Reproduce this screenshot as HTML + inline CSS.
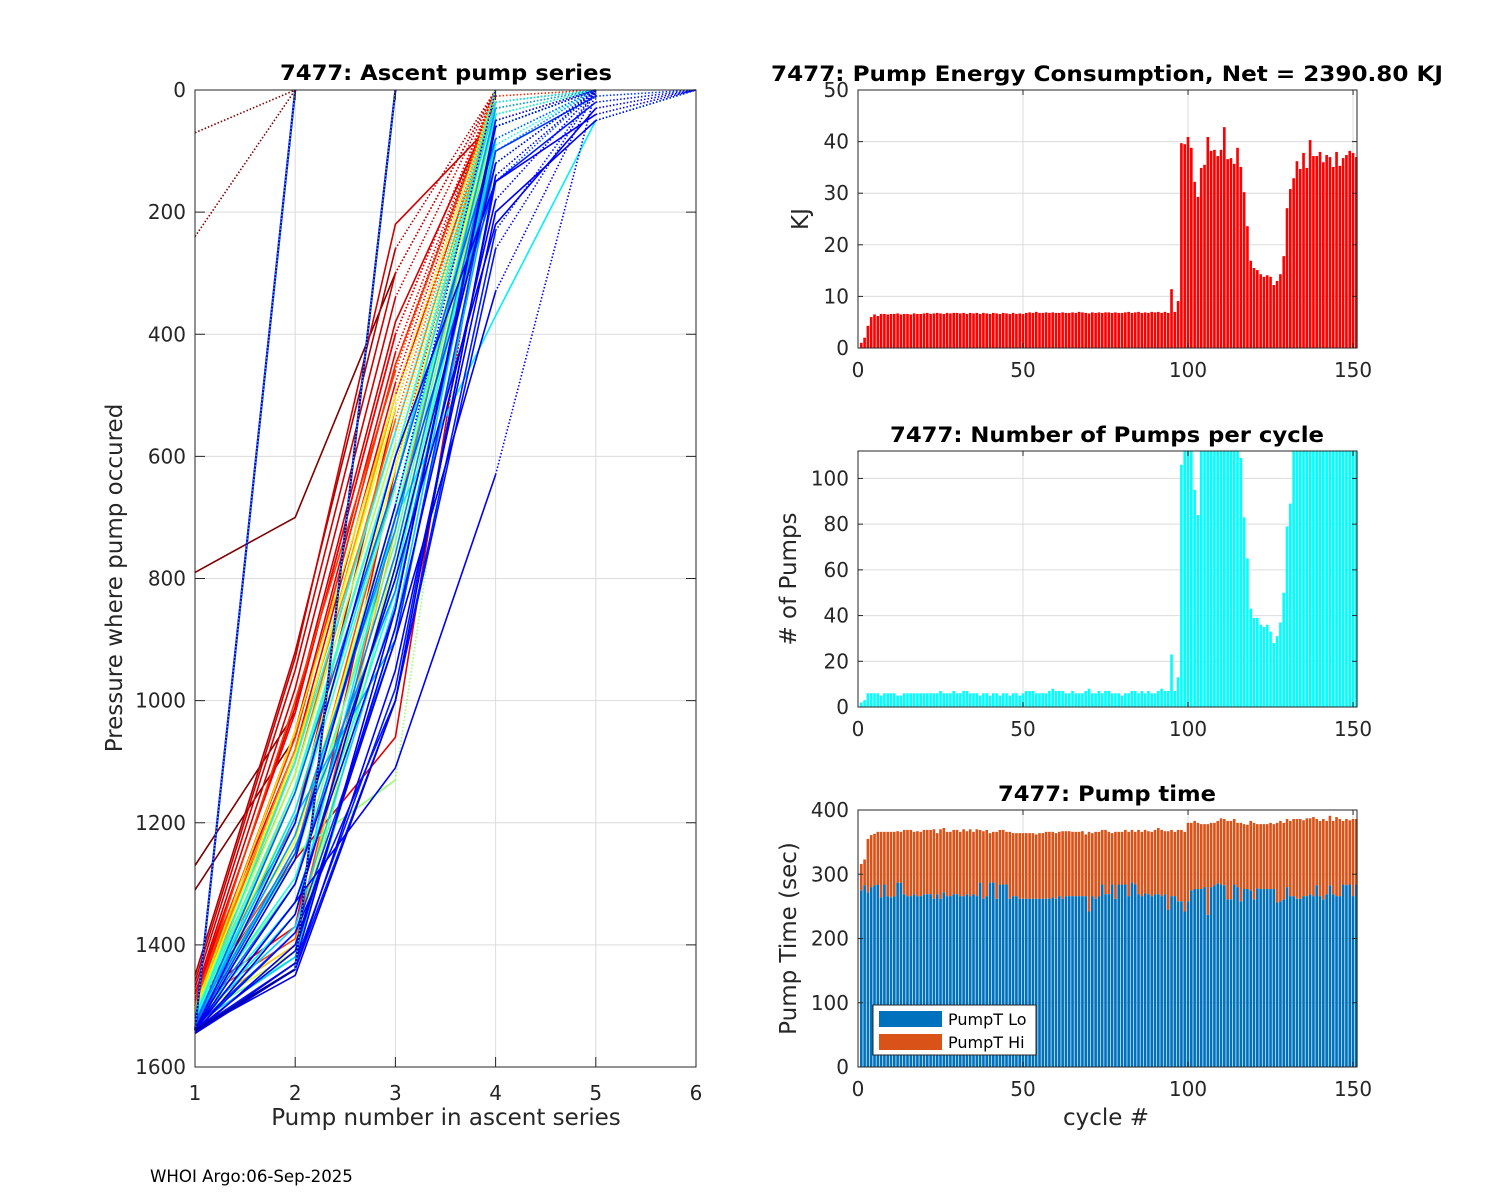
<!DOCTYPE html>
<html><head><meta charset="utf-8"><title>7477 pump plots</title>
<style>
html,body{margin:0;padding:0;background:#fff;}
svg{display:block;font-family:"DejaVu Sans","Liberation Sans",sans-serif;}
.tk{font-size:20px;fill:#262626;}
.lab{font-size:23px;fill:#262626;}
.ttl{font-size:21px;font-weight:bold;fill:#000;}
</style></head>
<body>
<svg id="fig" width="1500" height="1200" viewBox="0 0 1500 1200" xmlns="http://www.w3.org/2000/svg">
<rect x="0" y="0" width="1500" height="1200" fill="#fff"/>
<g id="left"></g>
<g id="energy"></g>
<g id="pumps"></g>
<g id="ptime"></g>
<text x="150" y="1182" font-size="16.6" fill="#000">WHOI Argo:06-Sep-2025</text>
</svg>
<script>
// ---------- DATA ----------
const cycles = [];
for (let i = 1; i <= 151; i++) cycles.push(i);

const energyKJ = [
1.0,2.0,4.3,6.0,6.5,6.2,6.6,6.6,6.5,6.6,
6.6,6.7,6.5,6.6,6.6,6.5,6.7,6.6,6.6,6.7,
6.8,6.6,6.7,6.8,6.7,6.6,6.8,6.7,6.8,6.8,
6.7,6.8,6.6,6.8,6.7,6.8,6.6,6.8,6.7,6.6,
6.8,6.7,6.6,6.8,6.7,6.6,6.8,6.6,6.7,6.6,
6.8,6.9,6.8,7.0,6.8,6.8,6.9,6.8,6.9,6.8,
6.8,6.9,6.8,6.8,6.9,6.8,7.0,6.9,6.8,6.7,
6.9,6.8,6.9,6.8,6.9,6.9,6.8,6.9,6.8,6.8,
6.9,7.0,6.8,6.9,7.0,6.8,6.9,6.8,7.0,6.9,
7.0,6.8,7.0,6.8,11.4,7.0,9.1,
39.7,39.5,40.9,38.8,32.2,29.3,34.9,35.5,40.9,38.2,38.4,37.2,38.4,42.8,36.6,36.8,35.7,38.8,35.1,30.2,23.6,16.9,15.5,15.1,14.3,13.8,14.1,13.8,12.2,13.0,14.3,17.8,27.1,30.8,32.9,36.2,34.7,37.8,34.9,40.3,37.2,37.2,38.0,36.0,37.4,37.0,35.1,38.0,35.3,36.8,37.4,38.2,37.8,37.0];

const pumpCount = [
2,3,6,6,6,6,5,6,6,6,
6,5,5,6,6,6,6,6,6,6,
6,6,6,6,7,6,6,6,7,6,
6,7,7,6,6,6,5,6,6,5,
6,6,5,6,6,5,6,6,5,6,
7,7,7,6,6,6,6,7,8,7,
7,7,6,6,7,6,6,6,7,8,
6,6,7,6,7,7,6,6,6,5,
6,6,7,7,6,7,6,7,6,6,
7,8,7,7,23,7,13,
106,130,125,120,95,84,130,140,135,133,128,132,140,138,126,140,129,135,109,83,65,43,39,39,36,35,36,33,28,31,37,50,79,89,130,140,135,128,150,132,138,141,129,137,126,133,145,139,128,136,142,131,127,134];

const pumpTLo = [
275,283,272,280,283,284,264,284,266,264,
266,287,287,269,266,266,269,266,266,269,
269,269,262,269,262,272,266,266,269,269,
266,266,269,266,269,266,287,262,266,287,
287,262,284,284,284,262,266,266,262,262,
262,262,262,262,262,262,262,262,264,262,
266,262,266,266,266,266,266,266,266,242,
266,262,266,284,269,269,284,262,284,284,
284,266,287,284,269,266,270,269,266,269,
269,266,269,245,266,266,258,258,242,258,
275,277,277,277,280,237,280,283,286,284,
283,261,261,284,280,258,277,277,275,261,
278,277,277,277,277,277,256,258,261,280,
266,266,262,262,266,266,269,266,283,266,
261,269,283,269,266,266,284,283,284,266,
284];

const pumpTHi = [
41,40,83,81,80,82,102,82,100,102,
100,80,79,100,103,103,97,101,100,100,
100,100,108,95,108,100,100,100,100,100,
100,104,98,104,97,104,82,105,103,77,
79,104,85,85,82,104,98,98,102,102,
102,102,102,100,102,102,104,104,102,102,
100,105,101,101,100,100,100,101,96,124,
98,104,100,85,100,97,80,104,82,82,
85,100,82,82,100,100,99,98,100,100,
103,103,98,122,103,100,111,111,124,122,
105,106,103,101,98,141,100,97,97,103,
103,122,122,102,100,122,101,100,108,119,
100,101,101,101,103,101,124,125,119,106,
117,120,124,124,118,121,118,123,103,117,
125,114,108,114,123,120,99,103,100,120,
102];

// ascent pump series: colour parameter (0=blue .. 1=dark red) and pressures at pump 1..n (last segment dotted)
const seriesColorT = [1.00,1.00,1.00,1.00,1.00,0.95,0.92,0.92,0.92,0.92,0.90,0.90,0.90,0.88,0.88,0.85,0.83,0.82,0.80,0.78,0.75,0.72,0.70,0.68,0.65,0.62,0.60,0.58,0.55,0.52,0.50,0.47,0.45,0.43,0.42,0.40,0.38,0.37,0.36,0.35,0.33,0.30,0.28,0.25,0.22,0.20,0.18,0.15,0.15,0.13,0.12,0.12,0.12,0.11,0.11,0.10,0.10,0.10,0.07,0.04,0.90,0.80,0.62,0.48,0.40,0.33,0.26,0.14,0.12,0.09];
const seriesPressure = [
[790,700,300,0],[70,0],[240,0],[1270,1020,400,0],[1310,1060,450,0],
[1450,920,260,0],[1460,930,220,50,0],[1470,950,300,0],[1480,980,340,0],[1490,1010,380,20,0],
[1500,1050,430,0],[1495,1200,520,0],[1500,1260,1060,40,0],[1485,1370,620,0],[1480,1020,400,0],
[1490,1100,500,30,0],[1490,1060,450,10,0],[1500,1000,460,0],[1495,1390,700,60,0],[1505,1120,540,0],
[1500,1080,560,20,0],[1500,1100,500,0],[1505,1150,600,0],[1510,1400,720,30,0],[1505,1050,500,0],
[1510,1180,620,40,0],[1510,1090,520,0],[1515,1410,760,50,0],[1510,1120,580,0],[1515,1250,1130,0],
[1515,1300,700,30,0],[1520,1420,780,60,0],[1520,1200,650,0],[1515,1140,600,0],[1520,1150,600,20,0],
[1525,1330,820,90,0],[1520,1100,560,0],[1525,1250,680,40,0],[1530,1350,700,370,50,0],[1525,1180,640,20,0],
[1530,1420,880,60,0],[1530,1190,900,120,0],[1525,1220,720,30,0],[1530,1300,760,60,0],[1530,1150,640,80,0],
[1535,1250,700,150,0],[1535,1380,900,100,10,0],[1540,1430,980,150,20,0],[1540,1440,1000,230,0],[1540,1330,850,50,0],
[1540,1200,600,150,40,0],[1545,1440,950,200,50,0],[1540,1330,1110,630,0],[1540,1300,800,220,30,0],[1545,1400,900,330,0],
[1540,1450,1000,140,0],[1545,1430,850,60,0],[1540,1260,680,0],[1540,0],[1540,1440,0],
[1480,1080,480,0],[1495,1250,640,0],[1505,1230,680,30,0],[1515,1260,740,40,0],[1520,1290,800,60,0],
[1525,1370,840,80,0],[1530,1240,820,100,0],[1540,1380,1000,260,0],[1540,1410,880,180,0],[1545,1350,780,120,0]];

// ---------- HELPERS ----------
const NS = "http://www.w3.org/2000/svg";
function mk(tag, attrs, parent) {
  const e = document.createElementNS(NS, tag);
  for (const k in attrs) e.setAttribute(k, attrs[k]);
  parent.appendChild(e);
  return e;
}
function txt(parent, x, y, s, cls, anchor, extra) {
  const t = mk("text", Object.assign({x: x, y: y, class: cls, "text-anchor": anchor || "middle"}, extra || {}), parent);
  t.textContent = s;
  return t;
}
function jet(t) {
  const c = v => Math.round(255 * Math.max(0, Math.min(1, v)));
  return "rgb(" + c(1.5 - Math.abs(4 * t - 3)) + "," + c(1.5 - Math.abs(4 * t - 2)) + "," + c(1.5 - Math.abs(4 * t - 1)) + ")";
}
const AX = "#262626", GRID = "#dcdcdc";

// ---------- LEFT CHART ----------
(function () {
  const g = document.getElementById("left");
  const L = 195, R = 696, T = 90, B = 1067;
  const xS = v => L + (v - 1) / 5 * (R - L);
  const yS = p => T + p / 1600 * (B - T);
  const grid = mk("g", {}, g);
  
  
  for (let v = 1; v <= 6; v++) mk("line", {x1: xS(v), x2: xS(v), y1: T, y2: B, stroke: GRID, "stroke-width": 1}, grid);
  for (let p = 0; p <= 1600; p += 200) mk("line", {x1: L, x2: R, y1: yS(p), y2: yS(p), stroke: GRID, "stroke-width": 1}, grid);
  const lines = mk("g", {fill: "none"}, g);
  
  
  const order = seriesPressure.map((p, i) => i).sort((a, b) => seriesColorT[b] - seriesColorT[a]);
  order.forEach(i => {
    const pr = seriesPressure[i];
    const col = jet(seriesColorT[i]);
    const n = pr.length;
    const full = seriesColorT[i] < 0.08;
    const last = full ? n : n - 1;
    if (last >= 2) {
      let d = "";
      for (let k = 0; k < last; k++) d += (k ? "L" : "M") + xS(k + 1).toFixed(1) + "," + yS(pr[k]).toFixed(1);
      const s = mk("path", {d: d, stroke: col, "stroke-width": full ? 2.2 : 1.6}, lines);
      
      
    }
    const dd = mk("line", {x1: xS(n - 1), y1: yS(pr[n - 2]), x2: xS(n), y2: yS(pr[n - 1]), stroke: full ? "#3aa0ff" : col, "stroke-width": 1.6, "stroke-dasharray": "1.5,2"}, lines);
    
    
  });
  const ax = mk("g", {}, g);
  
  
  mk("rect", {x: L, y: T, width: R - L, height: B - T, fill: "none", stroke: AX, "stroke-width": 1}, ax);
  for (let v = 1; v <= 6; v++) {
    mk("line", {x1: xS(v), x2: xS(v), y1: B, y2: B - 10, stroke: AX}, ax);
    mk("line", {x1: xS(v), x2: xS(v), y1: T, y2: T + 10, stroke: AX}, ax);
    const t = txt(ax, xS(v), B + 33, String(v), "tk");
    
    
  }
  for (let p = 0; p <= 1600; p += 200) {
    mk("line", {x1: L, x2: L + 10, y1: yS(p), y2: yS(p), stroke: AX}, ax);
    mk("line", {x1: R, x2: R - 10, y1: yS(p), y2: yS(p), stroke: AX}, ax);
    const t = txt(ax, L - 9, yS(p) + 7, String(p), "tk", "end");
    
    
  }
  const t1 = txt(g, 446, 80, "7477: Ascent pump series", "ttl", "middle", {textLength: 332, lengthAdjust: "spacingAndGlyphs"});
  
  
  const t2 = txt(g, 446, 1125, "Pump number in ascent series", "lab");
  
  
  const t3 = txt(g, 0, 0, "Pressure where pump occured", "lab", "middle", {transform: "translate(122,578) rotate(-90)"});
  
  
})();

// ---------- RIGHT BAR CHARTS ----------
function barAxes(id, T, B, ymax, yticks, title, ylabel, ylabelX, showXLabel) {
  const g = document.getElementById(id);
  const L = 858, R = 1357, XMAX = 151.2;
  const xS = c => L + c / XMAX * (R - L);
  const yS = v => B - Math.min(v, ymax) / ymax * (B - T);
  for (const v of [0, 50, 100, 150]) mk("line", {x1: xS(v), x2: xS(v), y1: T, y2: B, stroke: GRID}, g);
  for (const v of yticks) mk("line", {x1: L, x2: R, y1: yS(v), y2: yS(v), stroke: GRID}, g);
  const bars = mk("g", {}, g);
  
  
  const ax = mk("g", {}, g);
  mk("rect", {x: L, y: T, width: R - L, height: B - T, fill: "none", stroke: AX}, ax);
  for (const v of [0, 50, 100, 150]) {
    mk("line", {x1: xS(v), x2: xS(v), y1: B, y2: B - 5, stroke: AX}, ax);
    mk("line", {x1: xS(v), x2: xS(v), y1: T, y2: T + 5, stroke: AX}, ax);
    const t = txt(ax, xS(v), B + 29, String(v), "tk");
    
    
  }
  for (const v of yticks) {
    mk("line", {x1: L, x2: L + 5, y1: yS(v), y2: yS(v), stroke: AX}, ax);
    mk("line", {x1: R, x2: R - 5, y1: yS(v), y2: yS(v), stroke: AX}, ax);
    const t = txt(ax, L - 9, yS(v) + 7, String(v), "tk", "end");
    
    
  }
  const tt = txt(g, 1107, T - 9, title.s, "ttl", "middle", {textLength: title.w, lengthAdjust: "spacingAndGlyphs"});
  
  
  const yl = txt(g, 0, 0, ylabel, "lab", "middle", {transform: "translate(" + ylabelX + "," + ((T + B) / 2) + ") rotate(-90)"});
  
  
  if (showXLabel) {
    const xl = txt(g, 1106, B + 58, "cycle #", "lab");
    
    
  }
  return {bars: bars, xS: xS, yS: yS, g: g, bw: 0.8 / XMAX * (R - L)};
}

(function () {
  const a = barAxes("energy", 90, 348, 50, [0, 10, 20, 30, 40, 50], {s: "7477: Pump Energy Consumption,  Net = 2390.80 KJ", w: 672}, "KJ", 808, false);
  energyKJ.forEach((v, i) => {
    const r = mk("rect", {x: a.xS(cycles[i]) - a.bw / 2, y: a.yS(v), width: a.bw, height: a.yS(0) - a.yS(v), fill: "#ff0000"}, a.bars);
    
    
  });
})();

(function () {
  const a = barAxes("pumps", 451, 707, 112, [0, 20, 40, 60, 80, 100], {s: "7477: Number of Pumps per cycle", w: 434}, "# of Pumps", 796, false);
  pumpCount.forEach((v, i) => {
    const r = mk("rect", {x: a.xS(cycles[i]) - a.bw / 2, y: a.yS(v), width: a.bw, height: a.yS(0) - a.yS(v), fill: "#00ffff"}, a.bars);
    
    
  });
})();

(function () {
  const a = barAxes("ptime", 810, 1067, 400, [0, 100, 200, 300, 400], {s: "7477: Pump time", w: 218}, "Pump Time (sec)", 796, true);
  pumpTLo.forEach((lo, i) => {
    const hi = pumpTHi[i];
    const x = a.xS(cycles[i]) - a.bw / 2;
    const r1 = mk("rect", {x: x, y: a.yS(lo), width: a.bw, height: a.yS(0) - a.yS(lo), fill: "#0072bd"}, a.bars);
    
    
    const r2 = mk("rect", {x: x, y: a.yS(lo + hi), width: a.bw, height: a.yS(lo) - a.yS(lo + hi), fill: "#d95319"}, a.bars);
    
    
  });
  const lg = mk("g", {}, a.g);
  
  
  mk("rect", {x: 873, y: 1005, width: 163, height: 50, fill: "#fff", stroke: AX}, lg);
  const e1 = mk("rect", {x: 879, y: 1011, width: 63, height: 16, fill: "#0072bd"}, lg);
  
  
  const l1 = txt(lg, 948, 1025, "PumpT Lo", "", "start", {"font-size": 16, fill: "#000"});
  
  
  const e2 = mk("rect", {x: 879, y: 1034, width: 63, height: 16, fill: "#d95319"}, lg);
  
  
  const l2 = txt(lg, 948, 1048, "PumpT Hi", "", "start", {"font-size": 16, fill: "#000"});
  
  
})();
</script>
</body></html>
